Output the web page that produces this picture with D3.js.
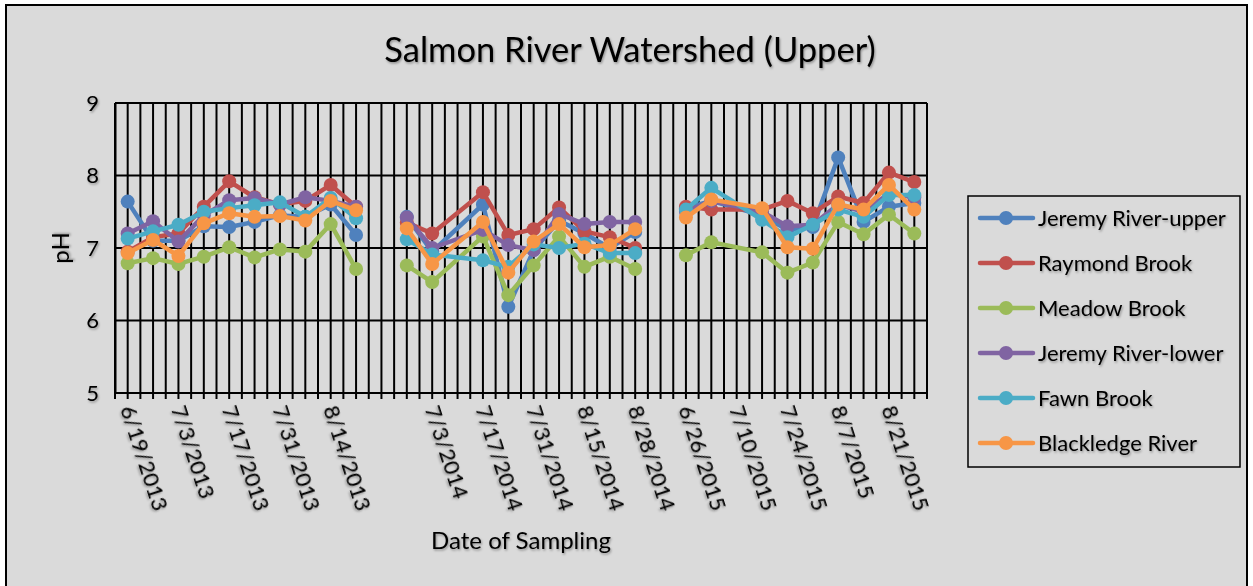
<!DOCTYPE html>
<html>
<head>
<meta charset="utf-8">
<script src="https://cdn.jsdelivr.net/npm/d3@7"></script>
<style>
  body { margin: 0; background: #fff; }
  text { font-family: Lato, "Open Sans", sans-serif; fill: #000; }
</style>
</head>
<body>
<div id="chart"></div>
<script>
// Sampling dates (category axis). Empty strings are the blank separator columns
const dates = ["6/19/2013","6/26/2013","7/3/2013","7/10/2013","7/17/2013","7/24/2013","7/31/2013","8/7/2013","8/14/2013","8/21/2013",
  "",
  "6/26/2014","7/3/2014","7/10/2014","7/17/2014","7/24/2014","7/31/2014","8/7/2014","8/15/2014","8/21/2014","8/28/2014",
  "",
  "6/26/2015","7/3/2015","7/10/2015","7/17/2015","7/24/2015","7/31/2015","8/7/2015","8/14/2015","8/21/2015","8/28/2015"];

const seriesNames = ["Jeremy River-upper","Raymond Brook","Meadow Brook","Jeremy River-lower","Fawn Brook","Blackledge River"];
const seriesColors = ["#4F81BD","#C0504D","#9BBB59","#8064A2","#4BACC6","#F79646"];

// pH values, one per date (null = no sample)
const jeremyUpper = [7.64,7.10,7.10,7.30,7.29,7.36,7.45,7.43,7.60,7.18, null,
  7.43,6.95,null,7.60,6.19,6.97,7.38,7.20,7.00,7.22, null,
  7.55,7.65,null,7.45,7.25,7.29,8.25,7.36,7.57,7.62];
const raymondBrook = [6.95,7.15,7.20,7.57,7.92,7.70,7.60,7.65,7.87,7.57, null,
  7.35,7.20,null,7.77,7.18,7.26,7.56,7.23,7.15,7.00, null,
  7.57,7.53,null,7.53,7.65,7.48,7.71,7.62,8.04,7.91];
const meadowBrook = [6.79,6.86,6.78,6.88,7.01,6.87,6.98,6.95,7.33,6.71, null,
  6.76,6.53,null,7.16,6.35,6.76,7.16,6.74,6.88,6.71, null,
  6.90,7.08,null,6.94,6.66,6.80,7.36,7.19,7.46,7.20];
const jeremyLower = [7.20,7.37,7.09,7.45,7.66,7.69,7.60,7.70,7.65,7.57, null,
  7.42,7.00,null,7.25,7.04,6.97,7.47,7.33,7.36,7.36, null,
  7.50,7.65,null,7.50,7.30,7.32,7.60,7.50,7.75,7.70];
const fawnBrook = [7.13,7.23,7.32,7.50,7.55,7.59,7.63,7.43,7.69,7.41, null,
  7.12,6.91,null,6.83,6.74,7.05,7.00,7.06,6.93,6.93, null,
  7.53,7.83,null,7.39,7.15,7.32,7.53,7.43,7.73,7.73];
const blackledgeRiver = [6.93,7.11,6.89,7.34,7.48,7.43,7.44,7.38,7.65,7.52, null,
  7.27,6.78,null,7.36,6.66,7.09,7.33,7.01,7.04,7.26, null,
  7.42,7.67,null,7.55,7.01,6.99,7.60,7.53,7.87,7.53];

const seriesValues = [jeremyUpper, raymondBrook, meadowBrook, jeremyLower, fawnBrook, blackledgeRiver];
const yTicks = [5, 6, 7, 8, 9];

const width = 1253, height = 586;
const plot = { left: 115, right: 927, top: 103, bottom: 393 };

let svg = d3.select("#chart").append("svg")
    .attr("width", width)
    .attr("height", height);

// soft shadow like the original text effect
let defs = svg.append("defs");
defs.append("filter").attr("id", "shadow")
    .attr("x", "-10%").attr("y", "-10%").attr("width", "130%").attr("height", "150%")
  .append("feDropShadow")
    .attr("dx", 1).attr("dy", 1.5).attr("stdDeviation", 1)
    .attr("flood-color", "#000").attr("flood-opacity", 0.35);

// chart area
svg.append("rect")
    .attr("x", 6).attr("y", 5)
    .attr("width", 1241).attr("height", 600)
    .attr("fill", "#dadada")
    .attr("stroke", "#000")
    .attr("stroke-width", 2);

let x = d3.scaleBand()
    .domain(d3.range(dates.length))
    .range([plot.left, plot.right]);
let y = d3.scaleLinear()
    .domain([5, 9])
    .range([plot.bottom, plot.top]);

const half = x.bandwidth() / 2;
const cx = i => x(i) + half;

// vertical grid: at every category boundary and every category centre
let gridX = d3.range(dates.length * 2 + 1).map(k => plot.left + k * half);
let g = svg.append("g");

g.selectAll(".vgrid")
    .data(gridX)
    .enter().append("line")
    .attr("x1", d => d).attr("x2", d => d)
    .attr("y1", plot.top).attr("y2", plot.bottom + 6)
    .attr("stroke", "#000")
    .attr("stroke-width", 2);

// horizontal grid
g.selectAll(".hgrid")
    .data(yTicks)
    .enter().append("line")
    .attr("x1", plot.left).attr("x2", plot.right)
    .attr("y1", d => y(d)).attr("y2", d => y(d))
    .attr("stroke", "#000")
    .attr("stroke-width", 2);

// y axis
let yAxis = svg.append("g")
    .attr("transform", `translate(${plot.left},0)`)
    .call(d3.axisLeft(y).tickValues(yTicks).tickFormat(d3.format("d")).tickSize(0).tickPadding(16));
yAxis.select(".domain").attr("stroke", "#000").attr("stroke-width", 2);
yAxis.selectAll("text")
    .attr("font-size", 22)
    .attr("font-family", "Lato, sans-serif")
    .attr("fill", "#000")
    .attr("filter", "url(#shadow)");

// x labels: every other category
svg.append("g").selectAll("text")
    .data(dates.map((d, i) => ({ label: d, i: i })).filter(d => d.i % 2 === 0 && d.label !== ""))
    .enter().append("text")
    .attr("transform", d => `translate(${cx(d.i)},${plot.bottom + 13}) rotate(72)`)
    .attr("dy", "0.35em")
    .attr("font-size", 22)
    .attr("filter", "url(#shadow)")
    .text(d => d.label);

// lines, broken at the blank separator columns
const line = d3.line()
    .x(d => cx(d.i))
    .y(d => y(d.v));

seriesValues.forEach((vals, s) => {
  let pts = vals.map((v, i) => ({ v: v, i: i }));
  let segments = [];
  let cur = [];
  pts.forEach(p => {
    if (dates[p.i] === "") {
      if (cur.length) segments.push(cur);
      cur = [];
    } else if (p.v !== null) {
      cur.push(p);
    }
  });
  if (cur.length) segments.push(cur);

  let sg = svg.append("g").attr("class", "series");
  sg.selectAll("path")
      .data(segments)
      .enter().append("path")
      .attr("d", line)
      .attr("fill", "none")
      .attr("stroke", seriesColors[s])
      .attr("stroke-width", 4.5)
      .attr("stroke-linejoin", "round");
  sg.selectAll("circle")
      .data(pts.filter(p => p.v !== null))
      .enter().append("circle")
      .attr("cx", d => cx(d.i))
      .attr("cy", d => y(d.v))
      .attr("r", 7)
      .attr("fill", seriesColors[s]);
});

// title and axis titles
svg.append("text")
    .attr("x", 630).attr("y", 62)
    .attr("text-anchor", "middle")
    .attr("font-size", 34.5)
    .attr("filter", "url(#shadow)")
    .text("Salmon River Watershed (Upper)");

svg.append("text")
    .attr("x", 521).attr("y", 549)
    .attr("text-anchor", "middle")
    .attr("font-size", 24)
    .attr("filter", "url(#shadow)")
    .text("Date of Sampling");

svg.append("text")
    .attr("transform", "translate(69,248) rotate(-90)")
    .attr("text-anchor", "middle")
    .attr("font-size", 24)
    .attr("filter", "url(#shadow)")
    .text("pH");

// legend
let legend = svg.append("g");
legend.append("rect")
    .attr("x", 968).attr("y", 196)
    .attr("width", 272).attr("height", 271)
    .attr("fill", "none")
    .attr("stroke", "#000")
    .attr("stroke-width", 1.5);

let item = legend.selectAll(".item")
    .data(seriesNames)
    .enter().append("g")
    .attr("transform", (d, i) => `translate(0,${218 + i * 45})`);
item.append("line")
    .attr("x1", 980).attr("x2", 1033)
    .attr("stroke", (d, i) => seriesColors[i])
    .attr("stroke-width", 4.5)
    .attr("stroke-linecap", "round");
item.append("circle")
    .attr("cx", 1006).attr("r", 7)
    .attr("fill", (d, i) => seriesColors[i]);
item.append("text")
    .attr("x", 1038).attr("dy", "0.35em")
    .attr("font-size", 22)
    .attr("filter", "url(#shadow)")
    .text(d => d);
</script>
</body>
</html>
